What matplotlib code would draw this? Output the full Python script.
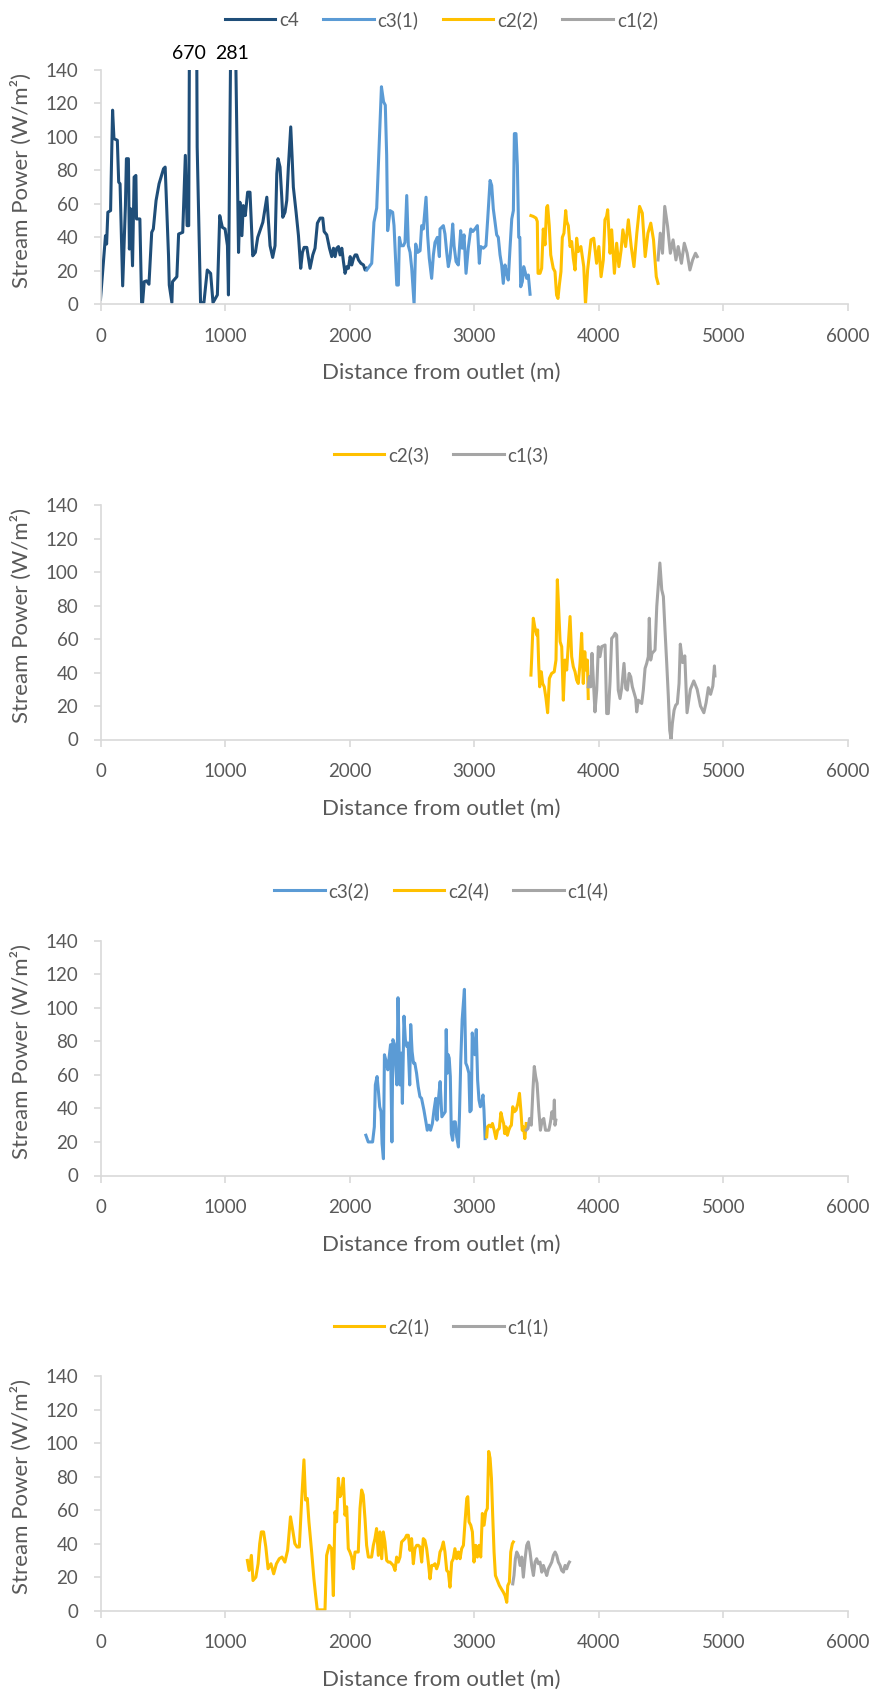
import matplotlib
matplotlib.use("Agg")
from matplotlib import pyplot as plt

plt.rcParams['font.family'] = ['Lato', 'DejaVu Sans']

# 各支流的 (距離 m, 河川功率 W/m2) 讀值
c4 = [(0, 3), (40, 41), (49, 36), (59, 55), (81, 56), (86, 76), (97, 116), (108, 99), (135, 98),
      (146, 73), (157, 72), (178, 11), (200, 59), (208, 87), (224, 87), (232, 33), (243, 57),
      (257, 23), (270, 76), (284, 77), (289, 51), (316, 51), (330, 1), (338, 1), (351, 13.5),
      (370, 14), (389, 12), (411, 43), (424, 45), (446, 62), (470, 72), (506, 81), (519, 82),
      (546, 29), (552, 11.5), (573, 1), (578, 13.5), (613, 16.5), (627, 42), (660, 43), (681, 89),
      (695, 47), (708, 47), (741, 670), (776, 94), (803, 1), (830, 1), (857, 20.5), (884, 18.5),
      (903, 1), (938, 5.6), (957, 53), (978, 46), (1000, 45), (1019, 35), (1027, 5.6), (1060, 281),
      (1108, 31), (1119, 61), (1135, 41), (1146, 59), (1162, 53), (1181, 67), (1200, 67),
      (1222, 29), (1243, 31), (1262, 40), (1303, 49), (1335, 64), (1361, 35), (1382, 28),
      (1401, 35), (1415, 78), (1425, 87), (1441, 82), (1455, 64), (1463, 52), (1481, 55),
      (1495, 62), (1508, 82), (1527, 106), (1538, 88), (1548, 70), (1570, 55), (1589, 41),
      (1607, 21.5), (1621, 31), (1634, 34), (1656, 34), (1682, 21.5), (1704, 29.5), (1722, 33.5),
      (1741, 48.5), (1763, 51.5), (1784, 51.5), (1795, 43.5), (1816, 41.5), (1838, 33.5),
      (1856, 28.5), (1870, 33.5), (1883, 28.5), (1896, 33.5), (1910, 34.5), (1923, 29.5),
      (1937, 33.5), (1950, 25.5), (1963, 18.5), (1977, 22.5), (1990, 21.5), (2004, 28.5),
      (2017, 23.5), (2031, 27.5), (2044, 29.5), (2057, 29.5), (2071, 26.5), (2090, 24.5),
      (2111, 23.5), (2124, 20.5), (2137, 21.5)]

c3_1 = [(2137, 20.5), (2177, 24.5), (2195, 49), (2217, 57.5), (2255, 130), (2272, 121), (2286, 119),
        (2297, 89), (2305, 44), (2324, 56), (2345, 55), (2356, 47), (2378, 11.5), (2391, 11.5),
        (2399, 40), (2412, 35), (2431, 35), (2444, 37), (2458, 65), (2471, 35), (2485, 31),
        (2498, 21.5), (2517, 0), (2530, 36), (2546, 31), (2565, 32), (2578, 47), (2591, 45),
        (2613, 64), (2626, 41), (2639, 27.5), (2658, 15.5), (2672, 29.5), (2685, 37), (2704, 40),
        (2720, 28.5), (2725, 45), (2739, 46), (2752, 47), (2765, 42), (2779, 31), (2792, 22.5),
        (2805, 27.5), (2819, 39.5), (2827, 48), (2838, 35), (2854, 25.5), (2872, 23.5), (2891, 44),
        (2904, 33.5), (2918, 41.5), (2934, 18.5), (2952, 33.5), (2972, 45), (2988, 43.5),
        (3006, 45), (3025, 47), (3041, 24.5), (3052, 34.5), (3073, 33.5), (3094, 35), (3108, 51),
        (3127, 74), (3140, 71), (3153, 57), (3167, 49), (3180, 41.5), (3193, 40), (3207, 29.5),
        (3220, 23.5), (3233, 12.5), (3247, 23.5), (3260, 18.5), (3273, 14.5), (3287, 33.5),
        (3301, 51), (3314, 56), (3322, 102), (3335, 102), (3346, 83), (3357, 40), (3366, 40),
        (3373, 10.5), (3386, 13.5), (3397, 22.5), (3408, 19.5), (3421, 15.5), (3434, 17.5),
        (3448, 6)]

c2_2 = [(3455, 53), (3474, 52.5), (3496, 51.5), (3506, 49.5), (3512, 18.5), (3528, 18.5),
        (3541, 21.5), (3554, 45), (3568, 35.5), (3581, 58), (3589, 59), (3602, 47), (3614, 29.5),
        (3634, 21.5), (3648, 19.5), (3661, 5.5), (3672, 3.5), (3683, 11.5), (3696, 19.5),
        (3707, 40), (3720, 42.5), (3734, 56), (3742, 49.5), (3755, 47), (3769, 34.5), (3782, 37.5),
        (3795, 27.5), (3809, 20.5), (3822, 39.5), (3835, 31.5), (3856, 34.5), (3879, 22.5),
        (3893, 0), (3910, 20.5), (3937, 38.5), (3959, 39.5), (3982, 24.5), (4000, 34.5),
        (4018, 16.5), (4036, 26.5), (4049, 50.5), (4062, 52.5), (4071, 56.5), (4090, 30.5),
        (4103, 44.5), (4125, 18.5), (4143, 36.5), (4161, 22.5), (4179, 32.5), (4193, 44.5),
        (4215, 34.5), (4237, 50.5), (4260, 34.5), (4282, 22.5), (4305, 42.5), (4327, 58.5),
        (4349, 54.5), (4372, 28.5), (4394, 42.5), (4417, 48.5), (4439, 38.5), (4461, 16.5),
        (4475, 12.5)]

c1_2 = [(4475, 26.5), (4493, 42.5), (4511, 30.5), (4529, 58.5), (4552, 46.5), (4574, 30.5),
        (4596, 38.5), (4619, 26.5), (4637, 34.5), (4663, 24.5), (4686, 36.5), (4709, 30.5),
        (4731, 20.5), (4753, 26.5), (4776, 30.5), (4790, 28.5)]

c2_3 = [(3455, 38.5), (3461, 48.5), (3474, 72.5), (3485, 67.5), (3501, 62.5), (3509, 65.5),
        (3517, 45.5), (3525, 31.5), (3538, 40.5), (3549, 33.5), (3562, 31.5), (3576, 24.5),
        (3589, 16), (3603, 36.5), (3621, 39.5), (3642, 40.5), (3656, 47.5), (3667, 95.5),
        (3678, 77.5), (3689, 58.5), (3702, 55.5), (3715, 23.5), (3728, 47.5), (3742, 41.5),
        (3769, 73.5), (3782, 49.5), (3795, 43.5), (3809, 40.5), (3822, 35.5), (3835, 33.5),
        (3849, 45.5), (3862, 63.5), (3875, 33.5), (3887, 52.5), (3897, 41.5), (3908, 47.5),
        (3915, 24.5)]

c1_3 = [(3915, 31.5), (3924, 37.5), (3935, 31.5), (3945, 51.5), (3969, 16.5), (3983, 29.5),
        (3996, 55.5), (4009, 49.5), (4023, 55.5), (4050, 56.5), (4063, 15.5), (4076, 15.5),
        (4090, 34.5), (4103, 60.5), (4116, 61.5), (4130, 63.5), (4143, 62.5), (4156, 29.5),
        (4170, 24.5), (4183, 30.5), (4202, 45.5), (4216, 30.5), (4229, 29.5), (4243, 39.5),
        (4256, 37.5), (4269, 31.5), (4296, 24.5), (4304, 16.5), (4317, 23.5), (4331, 22.5),
        (4344, 21.5), (4357, 29.5), (4371, 42.5), (4384, 45.5), (4397, 49.5), (4405, 72.5),
        (4416, 47.5), (4427, 51.5), (4451, 53.5), (4465, 79.5), (4490, 105.5), (4505, 89.5),
        (4518, 85.5), (4531, 65.5), (4545, 45.5), (4558, 25.5), (4569, 5.5), (4580, 0),
        (4590, 9.5), (4604, 17.5), (4617, 20.5), (4630, 21.5), (4644, 33.5), (4654, 57),
        (4672, 46), (4690, 50), (4708, 16), (4735, 30), (4762, 35), (4789, 30), (4816, 20),
        (4843, 16), (4861, 22), (4879, 31), (4897, 27), (4915, 32), (4928, 44), (4932, 38)]

c3_2 = [(2130, 24), (2149, 20), (2184, 20), (2198, 29), (2206, 54), (2220, 59), (2230, 51),
        (2241, 41), (2252, 38), (2260, 19), (2271, 10), (2279, 72), (2293, 68), (2306, 63),
        (2328, 78), (2339, 20), (2347, 81), (2360, 78), (2379, 54), (2388, 106), (2396, 78),
        (2404, 54), (2415, 73), (2423, 43), (2436, 95), (2447, 81), (2458, 77), (2469, 79),
        (2482, 54), (2490, 90), (2501, 74), (2512, 67), (2523, 67), (2537, 61), (2550, 53),
        (2564, 47), (2577, 46), (2596, 39), (2612, 32), (2623, 27), (2636, 30), (2649, 27),
        (2664, 31), (2677, 39), (2691, 46), (2701, 33), (2712, 45), (2726, 56), (2740, 35),
        (2767, 38), (2775, 87), (2783, 61), (2791, 72), (2799, 70), (2808, 59), (2816, 25),
        (2827, 21), (2837, 32), (2848, 32), (2859, 23), (2873, 17), (2881, 35), (2892, 69),
        (2903, 93), (2921, 111), (2932, 67), (2943, 65), (2957, 61), (2965, 38), (2976, 39),
        (2984, 85), (2995, 75), (3005, 72), (3016, 87), (3027, 57), (3038, 45), (3049, 41),
        (3059, 43), (3070, 48), (3078, 39), (3087, 22)]

c2_4 = [(3100, 23), (3106, 29), (3119, 30), (3133, 29), (3146, 31), (3160, 27), (3174, 22),
        (3187, 27), (3201, 28), (3214, 37.5), (3228, 33), (3236, 31), (3244, 25), (3255, 29),
        (3266, 24), (3277, 27), (3288, 29), (3298, 30), (3309, 41), (3322, 38), (3336, 39),
        (3350, 43), (3363, 49), (3374, 39), (3385, 27), (3395, 29), (3406, 22), (3417, 31)]

c1_4 = [(3417, 27), (3431, 28), (3444, 34), (3458, 30), (3471, 51), (3482, 65), (3493, 59),
        (3504, 55), (3518, 39), (3531, 27), (3545, 33), (3558, 34), (3572, 27), (3599, 27),
        (3612, 32), (3623, 38), (3636, 34), (3643, 45), (3648, 30), (3655, 33)]

c2_1 = [(1179, 30), (1193, 24), (1211, 33), (1224, 18), (1247, 20), (1265, 28), (1278, 40),
        (1291, 47), (1309, 47), (1327, 38), (1345, 25), (1368, 28), (1390, 22), (1412, 28),
        (1435, 31), (1457, 32), (1480, 29), (1502, 36), (1525, 56), (1543, 48), (1560, 40),
        (1578, 38), (1596, 38), (1614, 65), (1633, 90), (1646, 66), (1660, 67), (1673, 53),
        (1695, 35), (1713, 19), (1727, 9), (1740, 0.5), (1762, 0.5), (1788, 0.5), (1802, 0.5),
        (1815, 33), (1836, 39), (1855, 37), (1869, 9), (1882, 59), (1895, 53), (1909, 79),
        (1922, 68), (1935, 70), (1949, 79), (1962, 57), (1976, 62), (1989, 37), (2002, 35),
        (2016, 32), (2029, 25), (2043, 35), (2056, 35), (2069, 35), (2083, 61), (2096, 72),
        (2109, 69), (2123, 55), (2136, 39), (2150, 32), (2163, 32), (2176, 32), (2190, 39),
        (2203, 43), (2216, 49), (2230, 33), (2243, 47), (2257, 31), (2270, 47), (2283, 41),
        (2297, 30), (2310, 29), (2324, 29), (2337, 28), (2350, 27), (2364, 24), (2377, 32),
        (2390, 29), (2404, 32), (2417, 41), (2431, 42), (2444, 43), (2457, 45), (2471, 45),
        (2484, 36), (2497, 43), (2511, 28), (2524, 37), (2538, 39), (2551, 39), (2564, 38),
        (2578, 29), (2591, 43), (2604, 42), (2618, 37), (2631, 29), (2645, 19), (2658, 27),
        (2671, 27), (2685, 28), (2698, 25), (2712, 28), (2725, 35), (2738, 37), (2752, 41),
        (2765, 35), (2779, 24), (2792, 23), (2805, 14), (2819, 29), (2832, 31), (2845, 37),
        (2859, 31), (2872, 35), (2886, 31), (2899, 37), (2913, 39), (2926, 53), (2940, 67),
        (2948, 68), (2958, 53), (2972, 51), (2985, 47), (2998, 29), (3012, 39), (3025, 32),
        (3039, 39), (3052, 32), (3065, 58), (3079, 51), (3092, 59), (3105, 61), (3116, 95),
        (3127, 91), (3138, 79), (3148, 57), (3159, 35), (3170, 21), (3186, 18), (3202, 15),
        (3218, 13), (3234, 11), (3247, 9), (3261, 5), (3269, 15), (3282, 17), (3293, 35),
        (3306, 40), (3314, 41)]

c1_1 = [(3309, 16), (3319, 21), (3330, 31), (3341, 35), (3354, 33), (3368, 27), (3381, 32),
        (3394, 20), (3408, 31), (3421, 39), (3434, 41), (3448, 35), (3461, 27), (3475, 21),
        (3488, 29), (3501, 31), (3515, 28), (3528, 29), (3542, 23), (3555, 27), (3568, 24),
        (3582, 21), (3595, 25), (3609, 27), (3622, 29), (3635, 33), (3649, 35), (3662, 33),
        (3675, 29), (3689, 27), (3702, 24), (3716, 23), (3729, 27), (3742, 25), (3756, 28),
        (3764, 29)]

# 超出 140 的峰值標示
peak_labels = [(710, "670"), (1056, "281")]

colors = {'c4': '#1F4E79', 'c3': '#5B9BD5', 'c2': '#FFC000', 'c1': '#A5A5A5'}

panels = [
    [('c4', c4, 'c4'), ('c3(1)', c3_1, 'c3'), ('c2(2)', c2_2, 'c2'), ('c1(2)', c1_2, 'c1')],
    [('c2(3)', c2_3, 'c2'), ('c1(3)', c1_3, 'c1')],
    [('c3(2)', c3_2, 'c3'), ('c2(4)', c2_4, 'c2'), ('c1(4)', c1_4, 'c1')],
    [('c2(1)', c2_1, 'c2'), ('c1(1)', c1_1, 'c1')],
]

W, H = 872, 1691
fig = plt.figure(figsize=(W / 100, H / 100), dpi=100)

# 每張圖的 y 軸位置 (像素: 上緣, 下緣) 與 legend 的 y
ax_pix = [(70, 304.3), (505.3, 739.5), (940.7, 1175.5), (1376, 1610.7)]
legend_y = [20, 455, 891, 1327]
left, right = 100.5, 848

grid_c = '#D9D9D9'
text_c = '#595959'

for i, series in enumerate(panels):
    top, bot = ax_pix[i]
    ax = fig.add_axes([left / W, 1 - bot / H, (right - left) / W, (bot - top) / H])
    for name, pts, key in series:
        xs = [p[0] for p in pts]
        ys = [p[1] for p in pts]
        ax.plot(xs, ys, color=colors[key], lw=2.2, label=name, solid_joinstyle='round')
    ax.set_xlim(0, 6000)
    ax.set_ylim(0, 140)
    ax.set_xticks(range(0, 6001, 1000))
    ax.set_yticks(range(0, 141, 20))
    for s in ['top', 'right']:
        ax.spines[s].set_visible(False)
    for s in ['left', 'bottom']:
        ax.spines[s].set_color(grid_c)
        ax.spines[s].set_linewidth(1.2)
    ax.tick_params(axis='both', direction='out', length=5, width=1.2, color=grid_c,
                   labelcolor=text_c, labelsize=13.5)
    ax.tick_params(axis='x', pad=12)
    ax.tick_params(axis='y', pad=11)
    ax.set_ylabel('Stream Power (W/m²)', fontsize=16, color=text_c, va='center')
    ax.yaxis.set_label_coords(-0.1057, 0.53)
    # x 軸標題 (baseline 在軸下方約 75 px)
    fig.text(0.506, 1 - (bot + 75) / H, 'Distance from outlet (m)', ha='center',
             va='baseline', fontsize=16, color=text_c)
    fig.legend(handles=ax.get_lines(), loc='center', ncol=len(series), frameon=False,
               bbox_to_anchor=(0.506, 1 - legend_y[i] / H), fontsize=13.5,
               handlelength=2.7, handletextpad=0.2, columnspacing=1.3,
               labelcolor=text_c)
    if i == 0:
        for px, lab in peak_labels:
            ax.text(px, 150, lab, ha='center', va='center', fontsize=14,
                    color='black', clip_on=False)

fig.savefig('out.png', dpi=100)
